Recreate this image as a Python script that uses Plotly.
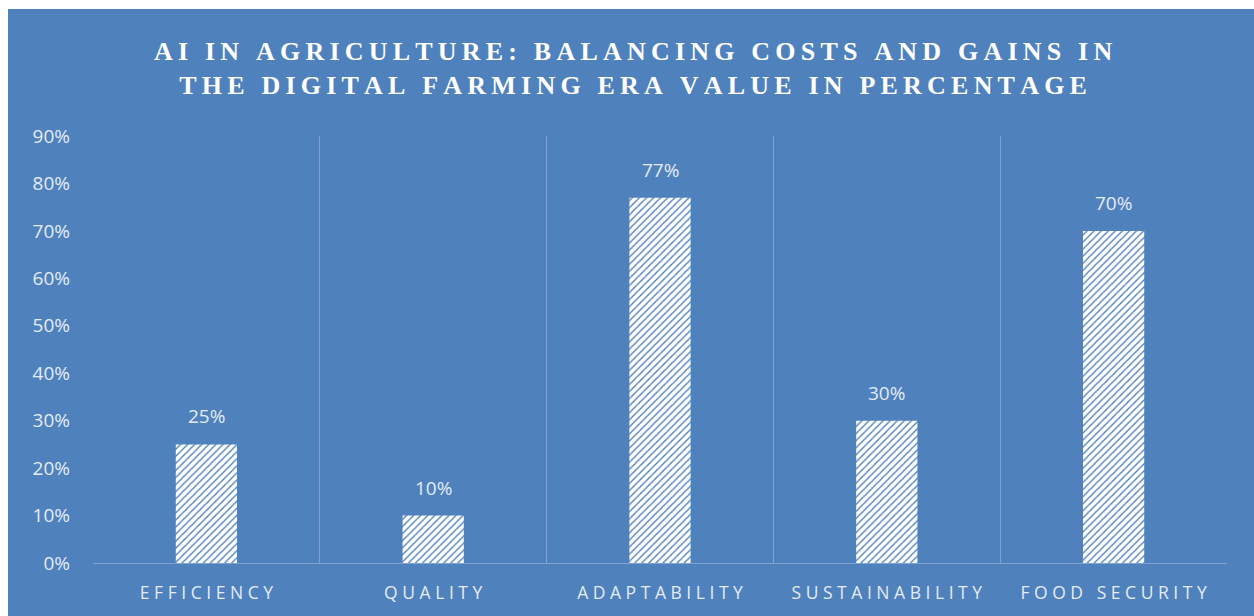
import plotly.graph_objects as go

categories = ["EFFICIENCY", "QUALITY", "ADAPTABILITY", "SUSTAINABILITY", "FOOD SECURITY"]
values = [0.25, 0.10, 0.77, 0.30, 0.70]
value_labels = ["25%", "10%", "77%", "30%", "70%"]
y_ticks = [0, 0.1, 0.2, 0.3, 0.4, 0.5, 0.6, 0.7, 0.8, 0.9]
y_tick_labels = ["0%", "10%", "20%", "30%", "40%", "50%", "60%", "70%", "80%", "90%"]
title_lines = ["AI IN AGRICULTURE: BALANCING COSTS AND GAINS IN",
               "THE DIGITAL FARMING ERA VALUE IN PERCENTAGE"]

BLUE = "#4F81BD"
TXT = "#E4EBF5"
GRID = "#7FA2D1"

def track(s, sp="\u200a"):
    return sp.join(list(s))

W, H = 1254, 616
L, R, T, B = 93, 27, 136, 53
pw, ph = W - L - R, H - T - B

fig = go.Figure()
fig.add_trace(go.Bar(
    x=categories, y=values, width=0.27,
    marker=dict(color="white", line=dict(width=0),
                pattern=dict(shape="/", fgcolor=BLUE, bgcolor="white",
                             size=5, solidity=0.28, fillmode="replace")),
    hoverinfo="skip",
))

annotations = []
for c, v, t in zip(categories, values, value_labels):
    annotations.append(dict(x=c, y=v, xref="x", yref="y", text=t, showarrow=False,
                            yanchor="middle", yshift=28,
                            font=dict(family="Open Sans", size=19, color=TXT)))

annotations.append(dict(
    x=(633 - L) / pw, y=(H - B - 68) / ph, xref="paper", yref="paper",
    text="<br>".join(track(s, "\u2009") for s in title_lines), showarrow=False,
    xanchor="center", yanchor="middle", align="center",
    font=dict(family="Liberation Serif", size=26, color="white", weight="bold"),
))

fig.update_layout(
    width=W, height=H,
    margin=dict(l=L, r=R, t=T, b=B),
    paper_bgcolor="white", plot_bgcolor="rgba(0,0,0,0)",
    showlegend=False,
    annotations=annotations,
    shapes=[dict(type="rect", xref="paper", yref="paper", layer="below",
                 x0=(8 - L) / pw, x1=(W + 5 - L) / pw,
                 y0=-(B + 5) / ph, y1=(H - B - 9) / ph,
                 fillcolor=BLUE, line=dict(width=0))],
    xaxis=dict(type="category", tickson="boundaries", showgrid=True, gridcolor=GRID,
               gridwidth=1, showline=True, linecolor=GRID, linewidth=1, ticks="",
               tickvals=categories, ticktext=[track(c, "\u00a0") for c in categories],
               ticklabelstandoff=14,
               tickfont=dict(family="Open Sans", size=17.5, color=TXT),
               zeroline=False, fixedrange=True),
    yaxis=dict(range=[0, 0.9], tickvals=y_ticks, ticktext=y_tick_labels,
               showgrid=False, zeroline=False, showline=False, ticks="",
               ticklabelstandoff=22,
               tickfont=dict(family="Open Sans", size=19, color=TXT)),
)

fig.write_html("out.html")
